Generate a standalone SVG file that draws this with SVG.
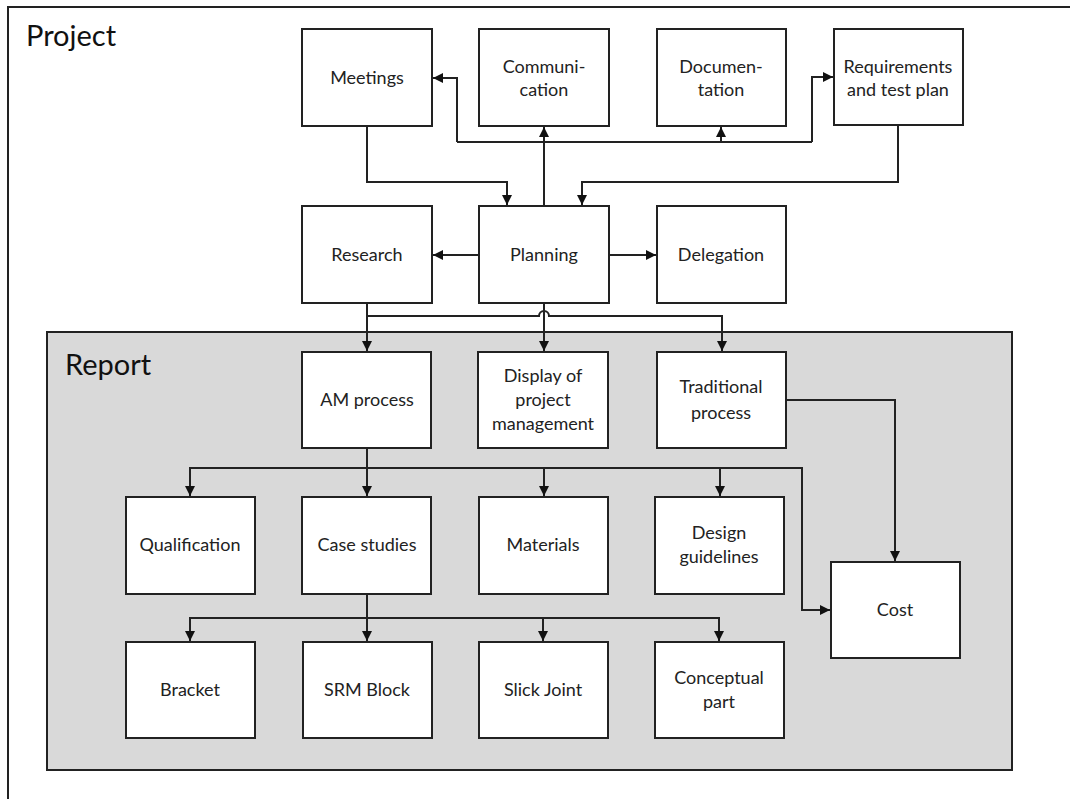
<svg xmlns="http://www.w3.org/2000/svg" width="1070" height="799" viewBox="0 0 1070 799">
<defs>
<style>
.box{fill:#fff;stroke:#222;stroke-width:2}
.t{font-family:Lato,"Open Sans","Liberation Sans",sans-serif;font-size:18px;fill:#222;text-anchor:middle}
.title{font-family:Lato,"Open Sans","Liberation Sans",sans-serif;font-size:29px;fill:#111}
.c{fill:none;stroke:#222;stroke-width:2}
</style>
<marker id="a" viewBox="0 0 10 10" refX="10" refY="5" markerWidth="5" markerHeight="5" orient="auto" markerUnits="strokeWidth">
<path d="M0,0 L10,5 L0,10 z" fill="#111"/>
</marker>
</defs>
<rect width="1070" height="799" fill="#fff"/>
<g id="frame">
<path d="M8,799 V7 H1070" fill="none" stroke="#222" stroke-width="2"/>
<text class="title" x="26" y="46">Project</text>
</g>
<g id="report">
<rect x="47" y="332" width="965" height="438" fill="#d9d9d9" stroke="#222" stroke-width="2"/>
<text class="title" x="65" y="375">Report</text>
</g>
<g id="connectors">
<path class="c" d="M367,126 V182 H507 V205" marker-end="url(#a)"/>
<path class="c" d="M898,125 V182 H582 V205" marker-end="url(#a)"/>
<path class="c" d="M544,206 V127" marker-end="url(#a)"/>
<path class="c" d="M457,142 H812"/>
<path class="c" d="M457,142 V78 H433" marker-end="url(#a)"/>
<path class="c" d="M812,142 V77 H833" marker-end="url(#a)"/>
<path class="c" d="M721,142 V127" marker-end="url(#a)"/>
<path class="c" d="M479,255 H433" marker-end="url(#a)"/>
<path class="c" d="M609,255 H656" marker-end="url(#a)"/>
<path class="c" d="M367,303 V351" marker-end="url(#a)"/>
<path class="c" d="M367,316 H539 A5,5 0 0 1 549,316 H722 V351" marker-end="url(#a)"/>
<path class="c" d="M544,303 V351" marker-end="url(#a)"/>
<path class="c" d="M367,448 V496" marker-end="url(#a)"/>
<path class="c" d="M190,468 H802 V610 H830" marker-end="url(#a)"/>
<path class="c" d="M190,467 V496" marker-end="url(#a)"/>
<path class="c" d="M544,468 V496" marker-end="url(#a)"/>
<path class="c" d="M720,468 V496" marker-end="url(#a)"/>
<path class="c" d="M786,400 H895 V561" marker-end="url(#a)"/>
<path class="c" d="M367,594 V641" marker-end="url(#a)"/>
<path class="c" d="M719,618 H190 V641" marker-end="url(#a)"/>
<path class="c" d="M719,617 V641" marker-end="url(#a)"/>
<path class="c" d="M543,618 V641" marker-end="url(#a)"/>
</g>
<g id="meetings"><rect class="box" x="302" y="29" width="130" height="97"/><text class="t" x="367" y="84">Meetings</text></g>
<g id="communication"><rect class="box" x="479" y="29" width="130" height="97"/><text class="t" x="544" y="73">Communi-</text><text class="t" x="544" y="96">cation</text></g>
<g id="documentation"><rect class="box" x="657" y="29" width="129" height="97"/><text class="t" x="721" y="73">Documen-</text><text class="t" x="721" y="96">tation</text></g>
<g id="requirements"><rect class="box" x="834" y="29" width="129" height="96"/><text class="t" x="898" y="73">Requirements</text><text class="t" x="898" y="96">and test plan</text></g>
<g id="research"><rect class="box" x="302" y="206" width="130" height="97"/><text class="t" x="367" y="261">Research</text></g>
<g id="planning"><rect class="box" x="479" y="206" width="130" height="97"/><text class="t" x="544" y="261">Planning</text></g>
<g id="delegation"><rect class="box" x="657" y="206" width="129" height="97"/><text class="t" x="721" y="261">Delegation</text></g>
<g id="am-process"><rect class="box" x="302" y="352" width="129" height="96"/><text class="t" x="367" y="406">AM process</text></g>
<g id="display"><rect class="box" x="478" y="352" width="130" height="96"/><text class="t" x="543" y="382">Display of</text><text class="t" x="543" y="406">project</text><text class="t" x="543" y="430">management</text></g>
<g id="traditional"><rect class="box" x="657" y="352" width="129" height="96"/><text class="t" x="721" y="393">Traditional</text><text class="t" x="721" y="419">process</text></g>
<g id="qualification"><rect class="box" x="126" y="497" width="129" height="97"/><text class="t" x="190" y="551">Qualification</text></g>
<g id="case-studies"><rect class="box" x="302" y="497" width="129" height="97"/><text class="t" x="367" y="551">Case studies</text></g>
<g id="materials"><rect class="box" x="479" y="497" width="129" height="97"/><text class="t" x="543" y="551">Materials</text></g>
<g id="design-guidelines"><rect class="box" x="655" y="497" width="129" height="97"/><text class="t" x="719" y="539">Design</text><text class="t" x="719" y="563">guidelines</text></g>
<g id="cost"><rect class="box" x="831" y="562" width="129" height="96"/><text class="t" x="895" y="616">Cost</text></g>
<g id="bracket"><rect class="box" x="126" y="642" width="129" height="96"/><text class="t" x="190" y="696">Bracket</text></g>
<g id="srm-block"><rect class="box" x="303" y="642" width="129" height="96"/><text class="t" x="367" y="696">SRM Block</text></g>
<g id="slick-joint"><rect class="box" x="479" y="642" width="129" height="96"/><text class="t" x="543" y="696">Slick Joint</text></g>
<g id="conceptual-part"><rect class="box" x="655" y="642" width="129" height="96"/><text class="t" x="719" y="684">Conceptual</text><text class="t" x="719" y="708">part</text></g>
</svg>
